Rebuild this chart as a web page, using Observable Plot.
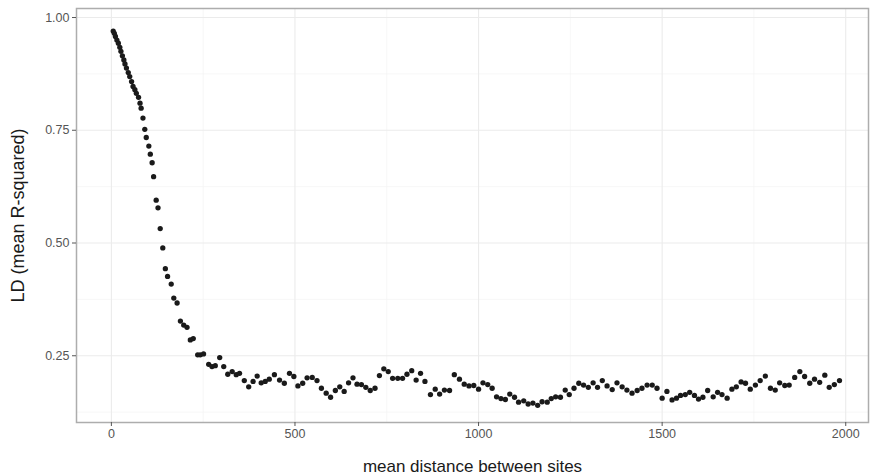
<!DOCTYPE html>
<html>
<head>
<meta charset="utf-8">
<script src="https://cdn.jsdelivr.net/npm/d3@7"></script>
<script src="https://cdn.jsdelivr.net/npm/@observablehq/plot@0.6"></script>
<style>
  html, body { margin: 0; padding: 0; background: #ffffff; }
  #chart { width: 872px; height: 475px; }
</style>
</head>
<body>
<div id="chart"></div>
<script>
// mean distance between sites
const distance = [
  5, 8, 11, 15, 19, 23, 26, 30, 34, 37, 41, 46, 50, 55, 59, 64, 68, 74, 78, 81,
  86, 91, 95, 102, 106, 111, 115, 122, 127, 133, 140, 147, 153, 163, 170, 179,
  188, 197, 206, 215, 223, 235, 242, 251, 265, 274, 283, 295, 306, 317, 329,
  340, 349, 362, 374, 386, 397, 408, 419, 430, 444, 458, 471, 485, 497, 508,
  521, 533, 547, 560, 572, 585, 597, 610, 622, 634, 646, 658, 669, 681, 693,
  705, 718, 730, 742, 754, 766, 780, 793, 805, 818, 830, 842, 854, 869, 882,
  894, 907, 921, 934, 948, 961, 974, 987, 1000, 1012, 1025, 1037, 1049, 1061,
  1073, 1085, 1098, 1109, 1123, 1135, 1148, 1161, 1173, 1187, 1198, 1210, 1223,
  1236, 1247, 1260, 1273, 1286, 1299, 1312, 1324, 1337, 1350, 1364, 1377, 1391,
  1404, 1418, 1432, 1445, 1459, 1473, 1486, 1500, 1513, 1527, 1539, 1550, 1563,
  1575, 1588, 1599, 1611, 1624, 1639, 1651, 1663, 1677, 1690, 1702, 1715, 1727,
  1740, 1754, 1767, 1781, 1795, 1808, 1820, 1834, 1846, 1861, 1875, 1888, 1902,
  1915, 1929, 1943, 1955, 1969, 1983
];
// LD (mean R-squared)
const ld = [
  0.970, 0.965, 0.958, 0.950, 0.943, 0.934, 0.925, 0.915, 0.906, 0.897, 0.888,
  0.878, 0.869, 0.858, 0.847, 0.840, 0.832, 0.823, 0.810, 0.799, 0.777, 0.752,
  0.734, 0.715, 0.697, 0.678, 0.647, 0.595, 0.578, 0.532, 0.489, 0.443, 0.426,
  0.409, 0.378, 0.367, 0.327, 0.318, 0.313, 0.285, 0.288, 0.252, 0.252, 0.254,
  0.231, 0.226, 0.228, 0.246, 0.226, 0.209, 0.215, 0.208, 0.211, 0.195, 0.181,
  0.193, 0.205, 0.190, 0.193, 0.198, 0.208, 0.196, 0.189, 0.211, 0.204, 0.183,
  0.189, 0.201, 0.202, 0.195, 0.178, 0.167, 0.158, 0.173, 0.181, 0.171, 0.190,
  0.201, 0.187, 0.186, 0.180, 0.173, 0.178, 0.206, 0.221, 0.215, 0.200, 0.200,
  0.200, 0.209, 0.217, 0.196, 0.211, 0.193, 0.164, 0.176, 0.165, 0.174, 0.173,
  0.208, 0.198, 0.187, 0.183, 0.184, 0.176, 0.190, 0.186, 0.178, 0.159, 0.155,
  0.153, 0.165, 0.158, 0.147, 0.150, 0.143, 0.145, 0.140, 0.148, 0.147, 0.155,
  0.159, 0.158, 0.174, 0.164, 0.178, 0.189, 0.185, 0.180, 0.190, 0.180, 0.195,
  0.183, 0.175, 0.190, 0.181, 0.174, 0.167, 0.173, 0.178, 0.185, 0.185, 0.178,
  0.156, 0.171, 0.152, 0.156, 0.162, 0.164, 0.169, 0.162, 0.154, 0.158, 0.173,
  0.159, 0.169, 0.164, 0.156, 0.176, 0.181, 0.192, 0.189, 0.176, 0.185, 0.195,
  0.205, 0.178, 0.174, 0.190, 0.184, 0.185, 0.202, 0.215, 0.204, 0.189, 0.198,
  0.191, 0.207, 0.180, 0.186, 0.195
];
const xTicks = [0, 500, 1000, 1500, 2000];
const yTicks = [0.25, 0.50, 0.75, 1.00];
const xMinor = [250, 750, 1250, 1750];
const yMinor = [0.125, 0.375, 0.625, 0.875];
const xTitle = "mean distance between sites";
const yTitle = "LD (mean R-squared)";

const data = distance.map((d, i) => ({distance: d, ld: ld[i]}));

const chart = Plot.plot({
  width: 872,
  height: 475,
  marginLeft: 76,
  marginRight: 4,
  marginTop: 8,
  marginBottom: 53,
  x: {domain: [-95, 2062]},
  y: {domain: [0.102, 1.02]},
  style: {fontFamily: "'Liberation Sans', Arial, sans-serif", background: "#ffffff", color: "#1a1a1a"},
  marks: [
    Plot.gridX(xMinor, {stroke: "#f3f3f3", strokeOpacity: 1, strokeWidth: 0.7}),
    Plot.gridY(yMinor, {stroke: "#f3f3f3", strokeOpacity: 1, strokeWidth: 0.7}),
    Plot.gridX(xTicks, {stroke: "#ebebeb", strokeOpacity: 1, strokeWidth: 1.1}),
    Plot.gridY(yTicks, {stroke: "#ebebeb", strokeOpacity: 1, strokeWidth: 1.1}),
    Plot.dot(data, {x: "distance", y: "ld", r: 2.65, fill: "#1a1a1a", stroke: "none"}),
    Plot.frame({stroke: "#adadad", strokeWidth: 1.5}),
    Plot.axisX(xTicks, {tickSize: 4, tickPadding: 3, fontSize: 12.5, color: "#555555", label: null, tickFormat: d => String(d)}),
    Plot.axisY(yTicks, {tickSize: 4, tickPadding: 3, fontSize: 12.5, color: "#555555", label: null, tickFormat: d3.format(".2f")}),
    Plot.text([xTitle], {text: d => d, frameAnchor: "bottom", textAnchor: "middle", lineAnchor: "middle", dy: 44, fontSize: 17, fill: "#1a1a1a"}),
    Plot.text([yTitle], {text: d => d, frameAnchor: "left", textAnchor: "middle", lineAnchor: "middle", rotate: -90, dx: -58, fontSize: 18, fill: "#1a1a1a"})
  ]
});
document.getElementById("chart").appendChild(chart);
</script>
</body>
</html>
